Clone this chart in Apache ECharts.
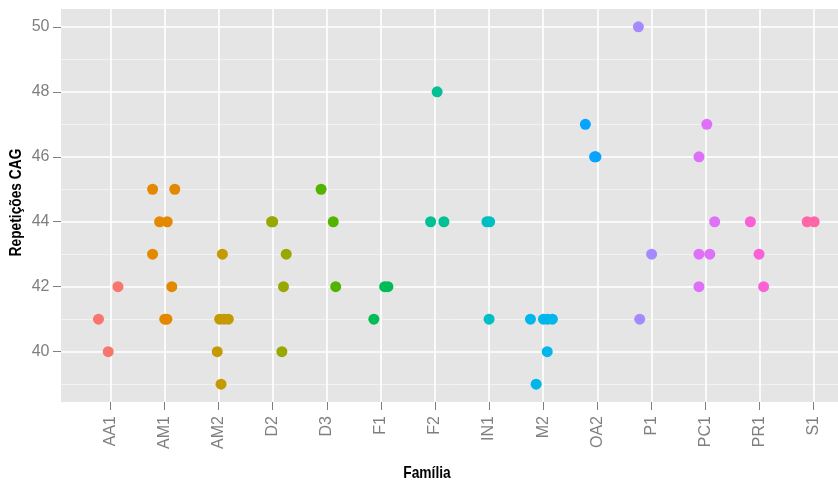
<!DOCTYPE html>
<html>
<head>
<meta charset="utf-8">
<script src="https://cdn.jsdelivr.net/npm/echarts@6/dist/echarts.min.js"></script>
<style>
  html, body { margin: 0; padding: 0; background: #ffffff; }
  #chart { width: 838px; height: 482px; }
</style>
</head>
<body>
<div id="chart"></div>
<script>
// Famílias (eixo x)
const familias = ['AA1', 'AM1', 'AM2', 'D2', 'D3', 'F1', 'F2', 'IN1', 'M2', 'OA2', 'P1', 'PC1', 'PR1', 'S1'];

// Repetições CAG observadas em cada família
const repeticoes = [
  [42, 41, 40],
  [45, 45, 44, 44, 43, 42, 41, 41],
  [43, 41, 41, 41, 40, 39],
  [44, 44, 43, 42, 40],
  [45, 44, 42],
  [42, 42, 41],
  [48, 44, 44],
  [44, 44, 41],
  [41, 41, 41, 41, 40, 39],
  [47, 46, 46],
  [50, 43, 41],
  [47, 46, 44, 43, 43, 42],
  [44, 43, 42],
  [44, 44]
];

// Deslocamento horizontal (jitter) de cada ponto, em unidades de categoria
const desvio = [
  [0.14, -0.22, -0.04],
  [-0.22, 0.19, -0.09, 0.05, -0.22, 0.135, 0.005, 0.045],
  [0.07, 0.02, 0.10, 0.18, -0.025, 0.045],
  [-0.02, 0.0, 0.25, 0.2, 0.17],
  [-0.105, 0.12, 0.165],
  [0.07, 0.13, -0.13],
  [0.04, -0.08, 0.165],
  [-0.04, 0.01, 0.0],
  [-0.235, 0.005, 0.08, 0.17, 0.075, -0.13],
  [-0.22, -0.05, -0.025],
  [-0.24, 0.005, -0.215],
  [0.025, -0.12, 0.17, -0.12, 0.08, -0.12],
  [-0.17, -0.01, 0.075],
  [-0.12, 0.01]
];

// Paleta de matizes (uma cor por família)
const cores = ['#F8766D', '#E38900', '#C49A00', '#99A800', '#53B400', '#00BC56', '#00C094',
               '#00BFC4', '#00B6EB', '#06A4FF', '#A58AFF', '#DF70F8', '#FB61D7', '#FF66A8'];

// Marcas do eixo y
const yMarcas = [40, 42, 44, 46, 48, 50];
const ySecundarias = [39, 41, 43, 45, 47, 49];

const posicoes = familias.map((_, i) => i);

const pontos = familias.map((fam, i) => ({
  name: fam,
  type: 'scatter',
  z: 3,
  symbol: 'circle',
  symbolSize: 11,
  itemStyle: { color: cores[i], opacity: 1 },
  emphasis: { disabled: true },
  data: repeticoes[i].map((r, k) => [i + desvio[i][k], r])
}));

// Linhas de grade desenhadas como markLine numa série vazia, abaixo dos pontos
const grade = {
  type: 'scatter',
  z: 1,
  data: [],
  silent: true,
  markLine: {
    z: 1,
    silent: true,
    symbol: 'none',
    animation: false,
    label: { show: false },
    emphasis: { disabled: true },
    data: [
      ...ySecundarias.map(v => ({ yAxis: v, lineStyle: { color: '#F2F2F2', width: 1, type: 'solid' } })),
      ...yMarcas.map(v => ({ yAxis: v, lineStyle: { color: '#FFFFFF', width: 1.6, type: 'solid' } })),
      ...posicoes.map(v => ({ xAxis: v, lineStyle: { color: '#FFFFFF', width: 1.6, type: 'solid' } }))
    ]
  }
};

const fonteTitulo = 'bold 17px "Liberation Sans", Arial, sans-serif';

const chart = echarts.init(document.getElementById('chart'), null, { renderer: 'canvas' });
chart.setOption({
  animation: false,
  backgroundColor: '#ffffff',
  grid: {
    left: 61, right: 0, top: 9, bottom: 80,
    show: true, backgroundColor: '#E5E5E5', borderWidth: 0
  },
  // Títulos dos eixos em fonte negrito estreita
  graphic: [
    {
      type: 'text',
      x: 427, y: 473,
      scaleX: 0.81,
      style: { text: 'Família', font: fonteTitulo, fill: '#000', align: 'center', verticalAlign: 'middle' }
    },
    {
      type: 'text',
      x: 16.7, y: 202.5,
      rotation: Math.PI / 2,
      scaleX: 0.81,
      style: { text: 'Repetições CAG', font: fonteTitulo, fill: '#000', align: 'center', verticalAlign: 'middle' }
    }
  ],
  xAxis: {
    type: 'value',
    min: -0.913,
    max: 13.45,
    axisLine: { show: false, onZero: false },
    splitLine: { show: false },
    axisTick: { show: true, length: 8, customValues: posicoes, lineStyle: { color: '#7F7F7F', width: 1 } },
    axisLabel: {
      customValues: posicoes,
      rotate: 90,
      margin: 14,
      color: '#7F7F7F',
      fontFamily: 'Liberation Sans, Arial, sans-serif',
      fontSize: 16,
      formatter: v => familias[Math.round(v)]
    }
  },
  yAxis: {
    type: 'value',
    min: 38.45,
    max: 50.55,
    axisLine: { show: false, onZero: false },
    splitLine: { show: false },
    axisTick: { show: true, length: 8, customValues: yMarcas, lineStyle: { color: '#7F7F7F', width: 1 } },
    axisLabel: {
      customValues: yMarcas,
      margin: 11.5,
      color: '#7F7F7F',
      fontFamily: 'Liberation Sans, Arial, sans-serif',
      fontSize: 16
    }
  },
  series: [grade, ...pontos]
});
</script>
</body>
</html>
